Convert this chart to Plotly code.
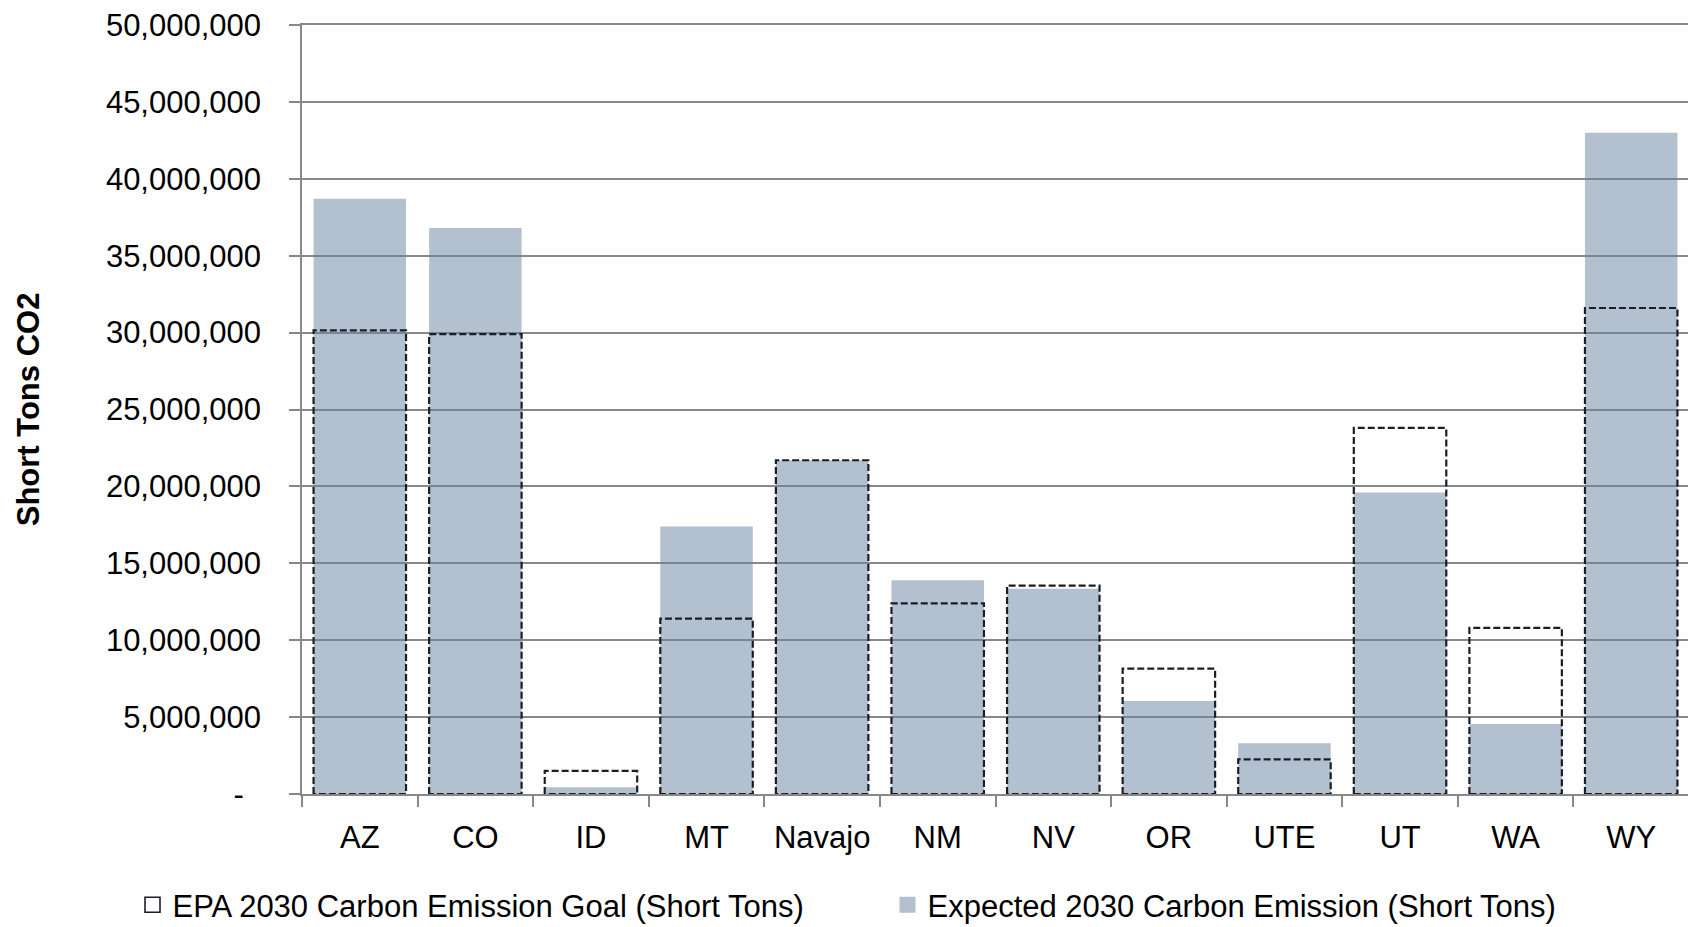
import plotly.graph_objects as go

categories = ["AZ", "CO", "ID", "MT", "Navajo", "NM", "NV", "OR", "UTE", "UT", "WA", "WY"]
expected_2030 = [38.7e6, 36.8e6, 0.44e6, 17.4e6, 21.7e6, 13.9e6, 13.35e6, 6.05e6, 3.3e6, 19.6e6, 4.55e6, 43.0e6]
epa_goal_2030 = [30.15e6, 29.9e6, 1.5e6, 11.4e6, 21.7e6, 12.4e6, 13.55e6, 8.15e6, 2.25e6, 23.8e6, 10.8e6, 31.6e6]
y_tickvals = list(range(0, 50_000_001, 5_000_000))
y_ticktext = ["-\u00a0\u00a0"] + [f"{v:,}" for v in y_tickvals[1:]]

FONT = "Liberation Sans, Arial, sans-serif"
BAR_COLOR = "rgba(103,129,161,0.5)"
DASH_COLOR = "#1a1f26"
half = 0.4
xs = list(range(len(categories)))

# dashed outline path for goal bars
gx, gy = [], []
for i, v in zip(xs, epa_goal_2030):
    gx += [i - half, i - half, i + half, i + half, i - half, None]
    gy += [0, v, v, 0, 0, None]

fig = go.Figure()
fig.add_trace(go.Bar(
    x=xs, y=expected_2030, width=2 * half,
    name="Expected 2030 Carbon Emission (Short Tons)",
    marker=dict(color=BAR_COLOR, line=dict(width=0)),
    showlegend=False, legendgroup="exp",
))
fig.add_trace(go.Scatter(
    x=gx, y=gy, mode="lines",
    name="EPA 2030 Carbon Emission Goal (Short Tons)",
    line=dict(color=DASH_COLOR, width=2.2, dash="7px,3px"),
    showlegend=False, legendgroup="epa",
))
# legend entries
fig.add_trace(go.Scatter(
    x=[None], y=[None], mode="markers",
    name="EPA 2030 Carbon Emission Goal (Short Tons)",
    marker=dict(symbol="square-open", size=15, color=DASH_COLOR, line=dict(width=1.6)),
    legendgroup="epa", legendrank=1,
))
fig.add_trace(go.Scatter(
    x=[None], y=[None], mode="markers",
    name="Expected 2030 Carbon Emission (Short Tons)",
    marker=dict(symbol="square", size=16, color="rgb(179,192,208)", line=dict(width=0)),
    legendgroup="exp", legendrank=2,
))

fig.update_layout(
    width=1688, height=919,
    margin=dict(l=294, r=7, t=17, b=133, autoexpand=False),
    paper_bgcolor="white", plot_bgcolor="white",
    font=dict(family=FONT, size=31, color="black"),
    barmode="overlay",
    showlegend=True,
    legend=dict(orientation="h", x=-0.1222, xanchor="left", y=-0.1445, yanchor="middle",
                font=dict(size=31), entrywidth=710, entrywidthmode="pixels",
                bgcolor="rgba(0,0,0,0)"),
    annotations=[dict(text="<b>Short Tons CO2</b>", textangle=-90, xref="paper", yref="paper",
                      x=-0.197, y=0.5, xanchor="center", yanchor="middle", showarrow=False,
                      font=dict(size=31, family=FONT))],
)
fig.update_xaxes(
    range=[-0.5, len(categories) - 0.5],
    tickmode="array", tickvals=xs, ticktext=categories, ticks="",
    ticklabelstandoff=15,
    showgrid=False, zeroline=False,
    showline=True, mirror=True, linecolor="#888888", linewidth=1.5,
    minor=dict(tickmode="linear", tick0=-0.5, dtick=1, ticks="outside", ticklen=11,
               tickwidth=1.5, tickcolor="#888888", showgrid=False),
)
fig.update_yaxes(
    range=[0, 50_000_000],
    tickmode="array", tickvals=y_tickvals, ticktext=y_ticktext,
    ticks="outside", ticklen=11, tickwidth=1.5, tickcolor="#888888",
    ticklabelstandoff=22, ticklabeloverflow="allow",
    showgrid=True, gridcolor="#888888", gridwidth=1.5,
    zeroline=False,
    showline=True, linecolor="#888888", linewidth=1.5,
)

fig.write_html("out.html")
